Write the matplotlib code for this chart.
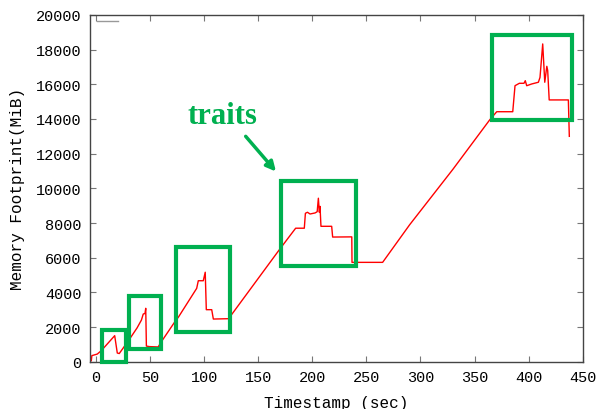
import numpy as np
import matplotlib.pyplot as plt
from matplotlib.patches import Rectangle

# memory trace (time in sec, memory in MiB)
waktu = [-4.3, -3.8, 1.2, 4.9, 17.3, 19.7, 21.5, 23.0, 31.0, 38.0, 42.0, 43.7,
         45.3, 46.0, 46.6, 49.5, 57.5, 60.1, 73.0, 76.1, 93.1, 94.6, 99.2, 101.0,
         102.0, 107.0, 108.5, 122.6, 170.0, 184.6, 192.6, 193.6, 195.5, 197.9,
         202.5, 204.5, 205.6, 206.5, 207.1, 208.0, 217.9, 218.8, 236.5, 236.7,
         265.0, 290.0, 330.0, 364.0, 370.5, 385.3, 387.4, 391.4, 395.7, 396.9,
         398.2, 402.8, 409.0, 410.5, 413.0, 414.9, 416.8, 417.6, 419.0, 436.7,
         437.6]
memori = [60, 350, 440, 635, 1500, 500, 470, 600, 1300, 1950, 2400, 2750,
          2780, 3080, 900, 870, 850, 1120, 2310, 2560, 4230, 4670, 4670, 5160,
          3000, 3000, 2460, 2480, 6500, 7700, 7700, 8560, 8620, 8520,
          8580, 8650, 9430, 8620, 8960, 7810, 7810, 7190, 7200, 5730,
          5730, 7900, 11100, 13950, 14420, 14420, 15920, 16060, 16060, 16210,
          15920, 16020, 16120, 16400, 18330, 16120, 17040, 16800, 15100, 15100,
          13000]

# highlight boxes: (x0, x1, y0, y1)
kotak_x0 = [5.3, 30.2, 74.0, 171.0, 365.9]
kotak_x1 = [27.5, 59.8, 124.0, 240.0, 440.4]
kotak_y0 = [0, 730, 1730, 5540, 13960]
kotak_y1 = [1830, 3800, 6600, 10420, 18840]

hijau = '#00b050'
huruf = 'Liberation Mono'

fig = plt.figure(figsize=(6.01, 4.10), dpi=100)
ax = fig.add_axes([0.1498, 0.1154, 0.8198, 0.8456])

ax.plot(waktu, memori, color='red', linewidth=1.0, zorder=2)

for x0, x1, y0, y1 in zip(kotak_x0, kotak_x1, kotak_y0, kotak_y1):
    ax.add_patch(Rectangle((x0, y0), x1 - x0, y1 - y0, fill=False,
                           edgecolor=hijau, linewidth=3, zorder=3,
                           clip_on=False))

ax.text(116.5, 14230, 'traits', color=hijau, fontsize=22, fontweight='bold',
        family='Liberation Serif', ha='center', va='center')
ax.annotate('', xy=(166.4, 10970), xytext=(138.4, 13000),
            arrowprops=dict(arrowstyle='-|>', color=hijau, lw=2.5,
                            mutation_scale=14, shrinkA=0, shrinkB=0))

# key line at the top left corner
ax.plot([0.0136, 0.0574], [0.983, 0.983], color='#999999', linewidth=1.0,
        transform=ax.transAxes)

ax.set_xlim(-5.5, 450)
ax.set_ylim(0, 20000)
ax.set_xticks(np.arange(0, 451, 50))
ax.set_yticks(np.arange(0, 20001, 2000))

for s in ax.spines.values():
    s.set_color('#444444')
    s.set_linewidth(1.0)
ax.tick_params(direction='in', length=4, width=0.8, color='#777777',
               top=True, right=True, labelsize=11, pad=6)
for lbl in ax.get_xticklabels() + ax.get_yticklabels():
    lbl.set_family(huruf)

ax.set_xlabel('Timestamp (sec)', family=huruf, fontsize=11.5, labelpad=8)
ax.set_ylabel('Memory Footprint(MiB)', family=huruf, fontsize=11.5, labelpad=8)

plt.savefig('out.png', dpi=100)
